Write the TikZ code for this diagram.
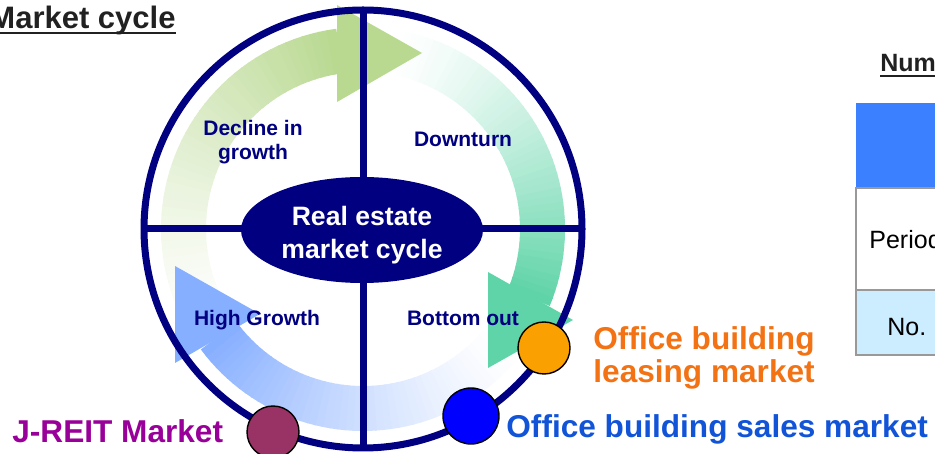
\documentclass[tikz,border=0pt]{standalone}
\usepackage{fontspec}
\setmainfont{Liberation Sans}
\usepackage{tikz}
\usetikzlibrary{calc}
\usetikzlibrary{shapes.geometric}

\definecolor{ringnavy}{RGB}{0,0,128}
\definecolor{arrgreen}{RGB}{185,217,145}
\definecolor{arrteal}{RGB}{95,212,168}
\definecolor{arrblue}{RGB}{135,175,255}
\definecolor{dotorange}{RGB}{250,160,0}
\definecolor{dotblue}{RGB}{0,0,255}
\definecolor{dotmaroon}{RGB}{153,51,102}
\definecolor{txtorange}{RGB}{242,114,20}
\definecolor{txtpurple}{RGB}{153,0,153}
\definecolor{txtblue}{RGB}{18,84,216}
\definecolor{hdrblue}{RGB}{58,128,255}
\definecolor{cellblue}{RGB}{204,236,255}

\tikzset{
  ringline/.style={ringnavy, line width=3.5pt},
  stagelabel/.style={text=ringnavy, font=\fontsize{10.5}{12.2}\selectfont\bfseries, align=center, inner sep=0},
  marketlabel/.style={font=\fontsize{15.8}{16.5}\selectfont\bfseries, inner sep=0, anchor=base west},
  marketdot/.style={circle, draw=black, line width=0.7pt, minimum size=26pt, inner sep=0},
  celltext/.style={font=\fontsize{12.5}{14}\selectfont, inner sep=0, anchor=west},
}

% one faded band of the cycle, drawn piece by piece
\newcommand{\bandarc}[3]{%
  \foreach \k in {1,...,48}{
    \pgfmathsetmacro{\angA}{#2+(#3-#2)*(\k-1)/48}
    \pgfmathsetmacro{\angB}{#2+(#3-#2)*\k/48+0.4*sign(#3-#2)}
    \pgfmathtruncatemacro{\mixpct}{100*(\k/48)^1.35}
    \fill[#1!\mixpct!white] ($(ctr)+(\angA:202)$) arc[start angle=\angA, end angle=\angB, radius=202]
      -- ($(ctr)+(\angB:157)$) arc[start angle=\angB, end angle=\angA, radius=157] -- cycle;
  }}

\begin{document}
\begin{tikzpicture}[x=0.5pt, y=0.5pt]
\useasboundingbox (0,0) rectangle (935,454);
\clip (0,0) rectangle (935,454);
\coordinate (ctr) at (363,225);

% arrows
\bandarc{arrgreen}{215}{98}
\bandarc{arrteal}{80}{-22}
\bandarc{arrblue}{-38}{-143}
\fill[arrgreen] (337,449) -- (422,401) -- (337,352) -- cycle;
\fill[arrteal] (488,182) -- (573,134) -- (488,86) -- cycle;
\fill[arrblue] (175,188) -- (260,140) -- (175,91) -- cycle;

% ring
\draw[ringline] (ctr) circle[radius=219];
\draw[ringline] ($(ctr)+(0,219)$) -- ($(ctr)+(0,-219)$);
\draw[ringline] ($(ctr)+(-219,0)$) -- ($(ctr)+(219,0)$);
\node[ellipse, fill=ringnavy, minimum width=121pt, minimum height=53pt, inner sep=0] (hub) at (362,224) {};
\node[text=white, align=center, inner sep=0, font=\fontsize{13.3}{16.5}\selectfont\bfseries] (hubtext) at (362,219) {Real estate\\market cycle};

\node[stagelabel] (decline) at (253,312) {Decline in\\growth};
\node[stagelabel, anchor=base] (downturn) at (463,307) {Downturn};
\node[stagelabel, anchor=base] (highgrowth) at (257,128) {High Growth};
\node[stagelabel, anchor=base] (bottomout) at (463,128) {Bottom out};

% markets
\node[marketdot, fill=dotorange] (leasedot) at (544,106) {};
\node[marketdot, fill=dotblue, minimum size=28pt] (salesdot) at (471,38) {};
\node[marketdot, fill=dotmaroon] (reitdot) at (273,22) {};
\node[marketlabel, text=txtorange, anchor=west, align=left] (leaselabel) at (593,96) {Office building\\leasing market};
\node[marketlabel, text=txtblue] (saleslabel) at (506,16) {Office building sales market};
\node[marketlabel, text=txtpurple] (reitlabel) at (12,11) {J-REIT Market};

% title
\node[font=\fontsize{15.5}{17}\selectfont\bfseries, text=black!87, inner sep=0, anchor=base east] (title) at (176,425) {Market cycle};
\draw[black!87, line width=1pt] ($(title.base west)+(0,-4)$) -- ($(title.base east)+(0,-4)$);

% table at the right edge
\node[font=\fontsize{12.5}{14}\selectfont\bfseries, text=black!87, inner sep=0, anchor=base west] (numtitle) at (880,382) {Num};
\draw[black!87, line width=1pt] ($(numtitle.base west)+(0,-4)$) -- ($(numtitle.base east)+(0,-4)$);
\fill[hdrblue] (856,266) rectangle (945,351);
\filldraw[fill=white, draw=black!40, line width=1pt] (856,164) rectangle (945,266);
\filldraw[fill=cellblue, draw=black!40, line width=1pt] (856,99) rectangle (945,164);
\node[celltext] (period) at (869,214) {Period};
\node[celltext] (numcell) at (887,127) {No.};
\end{tikzpicture}
\end{document}
